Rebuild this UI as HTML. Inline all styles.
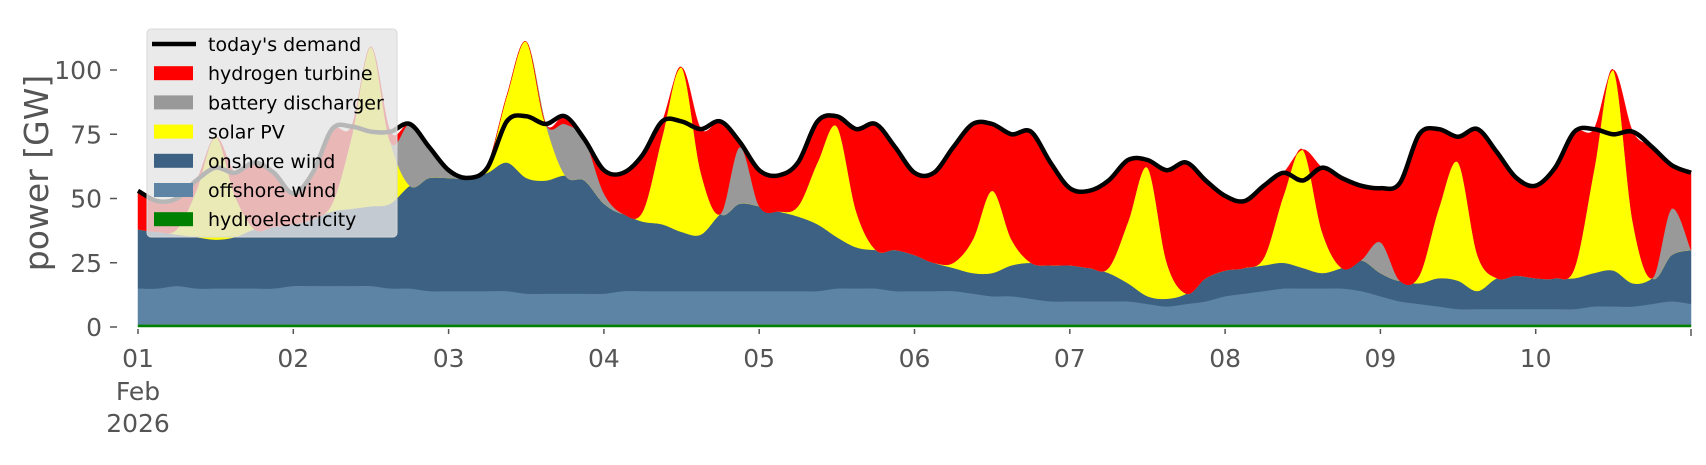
<!DOCTYPE html>
<html><head><meta charset="utf-8"><style>
body{margin:0;background:#fff;}
svg text{font-family:"DejaVu Sans","Liberation Sans",sans-serif;}
</style></head><body>
<svg id="chart" width="1706" height="460" xmlns="http://www.w3.org/2000/svg">
<g id="plot"></g>
<g id="axes"></g>
<text transform="translate(48,173) rotate(-90)" text-anchor="middle" font-size="33" fill="#555">power [GW]</text>
<g>
<rect x="147" y="29" width="250" height="208" rx="4" fill="rgba(229,229,229,0.8)" stroke="#d8d8d8"/>
<g id="legendItems"></g>
</g>
</svg>
<script>
const hydro=[1,1,1,1,1,1,1,1, 1,1,1,1,1,1,1,1, 1,1,1,1,1,1,1,1, 1,1,1,1,1,1,1,1, 1,1,1,1,1,1,1,1, 1,1,1,1,1,1,1,1, 1,1,1,1,1,1,1,1, 1,1,1,1,1,1,1,1, 1,1,1,1,1,1,1,1, 1,1,1,1,1,1,1,1, 1];
const offshore=[14,14,15,14,14,14,14,14, 15,15,15,15,15,14,14,13, 13,13,13,13,12,12,12,12, 12,13,13,13,13,13,13,13, 13,13,13,13,14,14,14,13, 13,13,13,12,11,11,10,9, 9,9,9,9,8,7,8,9, 11,12,13,14,14,14,14,13, 11,9,8,7,6,6,6,6, 6,6,6,7,7,7,8,9, 8];
const onshore=[23,22,20,20,19,20,23,24, 24,26,29,30,31,33,40,44, 44,44,46,50,45,44,46,44, 35,30,27,26,23,22,30,34, 33,31,29,26,20,16,15,16, 14,11,9,8,9,12,14,14, 14,13,11,7,3,3,4,9, 10,10,10,10,8,6,8,12, 9,8,8,11,11,7,12,13, 12,12,12,13,14,9,10,18, 21];
const solar=[0,0,2,18,40,16,0,0, 0,0,3,28,62,24,0,0, 0,0,3,26,53,22,0,0, 0,0,4,34,64,24,0,0, 0,0,4,24,43,14,0,0, 0,0,2,13,32,10,0,0, 0,0,2,24,50,14,0,0, 0,0,3,26,46,16,0,0, 0,0,3,27,46,14,0,0, 0,0,4,40,78,24,0,0, 0];
const battery=[0,0,0,0,0,0,0,0, 0,0,0,0,0,0,24,12, 4,0,0,0,0,0,20,16, 4,0,0,0,0,0,0,22, 0,0,0,0,0,0,0,0, 0,0,0,0,0,0,0,0, 0,0,0,0,0,0,0,0, 0,0,0,0,0,0,0,0, 12,0,0,0,0,0,0,0, 0,0,0,0,0,0,0,18, 0];
const demand=[53,49,50,57,62,60,64,60, 52,60,77,78,76,76,79,70, 61,58,62,80,82,79,82,73, 61,60,67,80,80,77,80,72, 61,59,64,80,82,77,79,70, 60,60,70,79,79,75,76,64, 54,53,57,65,65,61,64,57, 51,49,55,60,57,62,58,55, 54,56,75,77,74,77,68,58, 55,62,76,77,75,76,70,63, 60];
const xTickLabels=["01","02","03","04","05","06","07","08","09","10"];
const yTicks=[0,25,50,75,100];
const STEP=3/24;
const X0=138,DAY=155.3,Y0=327,PER=2.57;
function xs(i){return X0+i*STEP*DAY;}
function ys(v){return Y0-v*PER;}
const NS="http://www.w3.org/2000/svg";
const plot=document.getElementById('plot');
const n=demand.length;
function smooth(pts,start){
  let d=start?("M"+pts[0][0].toFixed(1)+","+pts[0][1].toFixed(1)):(" L"+pts[0][0].toFixed(1)+","+pts[0][1].toFixed(1));
  const t=0.5/3;
  for(let i=0;i<pts.length-1;i++){
    const p0=pts[Math.max(0,i-1)],p1=pts[i],p2=pts[i+1],p3=pts[Math.min(pts.length-1,i+2)];
    const c1x=p1[0]+(p2[0]-p0[0])*t,c1y=p1[1]+(p2[1]-p0[1])*t;
    const c2x=p2[0]-(p3[0]-p1[0])*t,c2y=p2[1]-(p3[1]-p1[1])*t;
    d+=" C"+c1x.toFixed(1)+","+c1y.toFixed(1)+" "+c2x.toFixed(1)+","+c2y.toFixed(1)+" "+p2[0].toFixed(1)+","+p2[1].toFixed(1);
  }
  return d;
}
const hydrogen=[];
for(let i=0;i<n;i++){hydrogen.push(Math.max(0,demand[i]-(hydro[i]+offshore[i]+onshore[i]+solar[i]+battery[i])));}
const series=[["hydroelectricity",hydro,"#008000"],["offshore wind",offshore,"#5d83a5"],["onshore wind",onshore,"#3c6183"],["solar PV",solar,"#ffff00"],["battery discharger",battery,"#999999"],["hydrogen turbine",hydrogen,"#ff0000"]];
let base=new Array(n).fill(0);
series.forEach(s=>{
  const top=base.map((b,i)=>b+s[1][i]);
  const tp=top.map((v,i)=>[xs(i),ys(v)]);
  const bp=base.map((v,i)=>[xs(i),ys(v)]).reverse();
  const d=smooth(tp,true)+smooth(bp,false)+"Z";
  const p=document.createElementNS(NS,'path');
  p.setAttribute('d',d);p.setAttribute('fill',s[2]);p.setAttribute('stroke',s[2]);p.setAttribute('stroke-width','0.5');
  
  
  plot.appendChild(p);
  base=top;
});
const line=document.createElementNS(NS,'path');
line.setAttribute('d',smooth(demand.map((v,i)=>[xs(i),ys(v)]),true));
line.setAttribute('fill','none');line.setAttribute('stroke','#000');line.setAttribute('stroke-width','4.5');line.setAttribute('stroke-linejoin','round');


plot.appendChild(line);
const axes=document.getElementById('axes');
xTickLabels.forEach((lab,i)=>{
  const x=X0+i*DAY;
  const t=document.createElementNS(NS,'line');
  t.setAttribute('x1',x);t.setAttribute('x2',x);t.setAttribute('y1',329);t.setAttribute('y2',334);t.setAttribute('stroke','#555');t.setAttribute('stroke-width','1.5');
  
  
  axes.appendChild(t);
  const tx=document.createElementNS(NS,'text');
  tx.setAttribute('x',x);tx.setAttribute('y',367);tx.setAttribute('text-anchor','middle');tx.setAttribute('font-size','25');tx.setAttribute('fill','#555');
  tx.textContent=lab;
  
  
  axes.appendChild(tx);
});
const endTick=document.createElementNS(NS,'line');
endTick.setAttribute('x1',X0+10*DAY);endTick.setAttribute('x2',X0+10*DAY);endTick.setAttribute('y1',329);endTick.setAttribute('y2',336);endTick.setAttribute('stroke','#555');endTick.setAttribute('stroke-width','1.5');


axes.appendChild(endTick);
[["Feb",400],["2026",432]].forEach(a=>{
  const tx=document.createElementNS(NS,'text');
  tx.setAttribute('x',X0);tx.setAttribute('y',a[1]);tx.setAttribute('text-anchor','middle');tx.setAttribute('font-size','25');tx.setAttribute('fill','#555');
  tx.textContent=a[0];
  
  
  axes.appendChild(tx);
});
yTicks.forEach(v=>{
  const y=ys(v);
  const t=document.createElementNS(NS,'line');
  t.setAttribute('x1',110);t.setAttribute('x2',117);t.setAttribute('y1',y);t.setAttribute('y2',y);t.setAttribute('stroke','#555');t.setAttribute('stroke-width','1.5');
  
  
  axes.appendChild(t);
  const tx=document.createElementNS(NS,'text');
  tx.setAttribute('x',102);tx.setAttribute('y',y+9);tx.setAttribute('text-anchor','end');tx.setAttribute('font-size','25');tx.setAttribute('fill','#555');
  tx.textContent=v;
  
  
  axes.appendChild(tx);
});
const legendEntries=[["today's demand","line","#000"],["hydrogen turbine","box","#ff0000"],["battery discharger","box","#999999"],["solar PV","box","#ffff00"],["onshore wind","box","#3c6183"],["offshore wind","box","#5d83a5"],["hydroelectricity","box","#008000"]];
const lg=document.getElementById('legendItems');
legendEntries.forEach((e,i)=>{
  const cy=44+i*29.2;
  let h;
  if(e[1]==="line"){h=document.createElementNS(NS,'line');h.setAttribute('x1',152);h.setAttribute('x2',196);h.setAttribute('y1',cy);h.setAttribute('y2',cy);h.setAttribute('stroke','#000');h.setAttribute('stroke-width','4.5');}
  else{h=document.createElementNS(NS,'rect');h.setAttribute('x',154);h.setAttribute('y',cy-7);h.setAttribute('width',39);h.setAttribute('height',14);h.setAttribute('fill',e[2]);}
  
  
  lg.appendChild(h);
  const t=document.createElementNS(NS,'text');
  t.setAttribute('x',208);t.setAttribute('y',cy+7);t.setAttribute('font-size','19');t.setAttribute('fill','#000');
  t.textContent=e[0];
  
  
  lg.appendChild(t);
});
</script>
</body></html>
